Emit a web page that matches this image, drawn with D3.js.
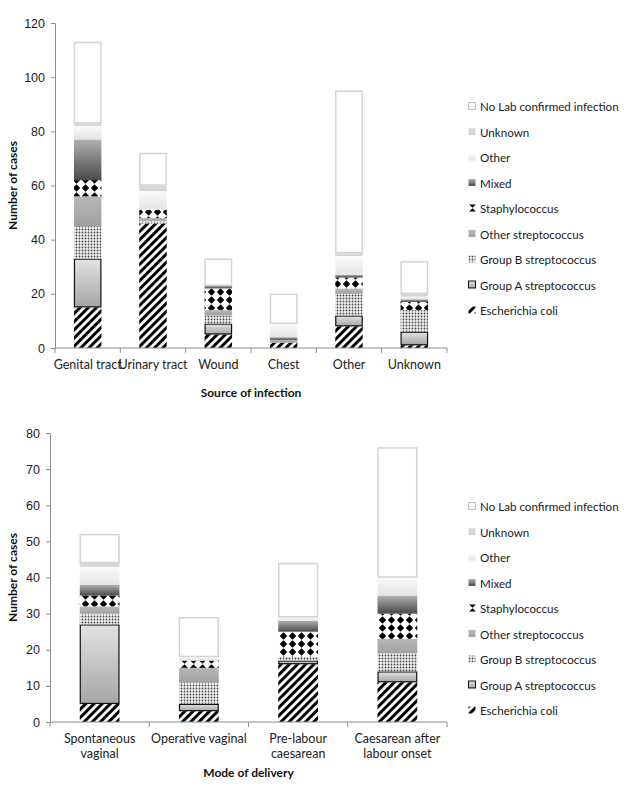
<!DOCTYPE html>
<html>
<head>
<meta charset="utf-8">
<script src="https://cdn.jsdelivr.net/npm/d3@7"></script>
<style>
  body { margin: 0; background: #fff; }
  svg { font-family: Lato, "Open Sans", sans-serif; }
  .tick text { fill: #222; font-size: 12.5px; }
  .axis-title { font-weight: bold; font-size: 12px; fill: #111; }
  .legend text { font-size: 11.6px; fill: #1a1a1a; }
</style>
</head>
<body>
<svg id="chart" width="625" height="800"></svg>
<script>
// series, bottom of each stack to top
const seriesNames = ["Escherichia coli", "Group A streptococcus", "Group B streptococcus",
  "Other streptococcus", "Staphylococcus", "Mixed", "Other", "Unknown", "No Lab confirmed infection"];

// top chart: source of infection
const sources = ["Genital tract", "Urinary tract", "Wound", "Chest", "Other", "Unknown"];
const ecoliSource      = [15, 46, 5, 2, 8, 1];
const groupASource     = [18, 0, 4, 0, 4, 5];
const groupBSource     = [12, 1, 3, 0, 8, 8];
const otherStrepSource = [11, 1, 2, 1, 2, 0];
const staphSource      = [6, 3, 8, 0, 4, 3];
const mixedSource      = [15, 0, 1, 1, 1, 1];
const otherSource      = [5, 7, 0, 5, 7, 1];
const unknownSource    = [1, 2, 0, 0, 1, 1];
const noLabSource      = [30, 12, 10, 11, 60, 12];
const sourceTicks = [0, 20, 40, 60, 80, 100, 120];

// bottom chart: mode of delivery
const modes = ["Spontaneous vaginal", "Operative vaginal", "Pre-labour caesarean", "Caesarean after labour onset"];
const modeLabels = [["Spontaneous", "vaginal"], ["Operative vaginal"], ["Pre-labour", "caesarean"], ["Caesarean after", "labour onset"]];
const ecoliMode      = [5, 3, 16, 11];
const groupAMode     = [22, 2, 1, 3];
const groupBMode     = [3, 6, 1, 5];
const otherStrepMode = [2, 4, 0, 4];
const staphMode      = [3, 2, 7, 7];
const mixedMode      = [3, 0, 3, 5];
const otherMode      = [5, 1, 1, 5];
const unknownMode    = [1, 0, 0, 0];
const noLabMode      = [8, 11, 15, 36];
const modeTicks = [0, 10, 20, 30, 40, 50, 60, 70, 80];

const svg = d3.select("#chart");
const defs = svg.append("defs");

// fills for each series
function vGrad(id, top, bottom) {
  const g = defs.append("linearGradient").attr("id", id)
    .attr("x1", 0).attr("y1", 0).attr("x2", 0).attr("y2", 1);
  g.append("stop").attr("offset", "0%").attr("stop-color", top);
  g.append("stop").attr("offset", "100%").attr("stop-color", bottom);
}
vGrad("gA", "#e2e2e2", "#a6a6a6");
vGrad("gOS", "#b8b8b8", "#a0a0a0");
vGrad("gMix", "#b0b0b0", "#4a4a4a");
vGrad("gOther", "#fafafa", "#e4e4e4");
vGrad("gUnk", "#dcdcdc", "#d0d0d0");

const stripes = defs.append("pattern").attr("id", "pEcoli")
  .attr("patternUnits", "userSpaceOnUse").attr("width", 5.8).attr("height", 8)
  .attr("patternTransform", "rotate(45)");
stripes.append("rect").attr("width", 5.8).attr("height", 8).attr("fill", "#fff");
stripes.append("rect").attr("width", 3).attr("height", 8).attr("fill", "#000");

const dots = defs.append("pattern").attr("id", "pGB")
  .attr("patternUnits", "userSpaceOnUse").attr("width", 3).attr("height", 3);
dots.append("rect").attr("width", 3).attr("height", 3).attr("fill", "#f2f2f2");
dots.append("circle").attr("cx", 1.5).attr("cy", 1.5).attr("r", 0.9).attr("fill", "#444");

const diam = defs.append("pattern").attr("id", "pStaph")
  .attr("patternUnits", "userSpaceOnUse").attr("width", 9).attr("height", 8);
diam.append("rect").attr("width", 9).attr("height", 8).attr("fill", "#fff");
diam.append("path").attr("d", "M4.5,0.3 L8.2,4 L4.5,7.7 L0.8,4 Z").attr("fill", "#000");

const fills = ["url(#pEcoli)", "url(#gA)", "url(#pGB)", "url(#gOS)", "url(#pStaph)",
  "url(#gMix)", "url(#gOther)", "url(#gUnk)", "#fff"];
const strokes = [null, "#111", null, null, null, null, null, null, "#d4d4d4"];

function drawChart(cfg) {
  const g = svg.append("g");
  const rows = cfg.categories.map((c, i) => {
    const r = {cat: c};
    seriesNames.forEach((s, j) => r[s] = cfg.values[j][i]);
    return r;
  });
  const stacked = d3.stack().keys(seriesNames)(rows);

  const x = d3.scaleBand().domain(cfg.categories).range([cfg.left, cfg.right])
    .paddingInner(cfg.pad).paddingOuter(cfg.pad / 2);
  const y = d3.scaleLinear().domain([0, cfg.max]).range([cfg.bottom, cfg.top]);

  // y axis
  const yAxis = g.append("g").attr("transform", `translate(${cfg.left},0)`)
    .call(d3.axisLeft(y).tickValues(cfg.ticks).tickSize(4).tickPadding(6));
  yAxis.selectAll("path, line").attr("stroke", "#8c8c8c");

  // bars
  stacked.forEach((layer, j) => {
    g.append("g").selectAll("rect")
      .data(layer.filter(d => d[1] > d[0]))
      .join("rect")
      .attr("x", d => x(d.data.cat) + (strokes[j] ? 0.5 : 0))
      .attr("width", x.bandwidth() - (strokes[j] ? 1 : 0))
      .attr("y", d => y(d[1]) + (strokes[j] ? 0.5 : 0))
      .attr("height", d => Math.max(0, y(d[0]) - y(d[1]) - (strokes[j] ? 1 : 0)))
      .attr("fill", fills[j])
      .attr("stroke", strokes[j] || "none")
      .attr("stroke-width", j === 8 ? 1.5 : 1.2);
  });

  // category axis, ticks between categories
  const xa = g.append("g").attr("transform", `translate(0,${cfg.bottom})`);
  xa.append("line").attr("x1", cfg.left).attr("x2", cfg.right).attr("stroke", "#8c8c8c");
  const step = x.step();
  d3.range(cfg.categories.length + 1).forEach(i => {
    const px = cfg.left + i * step;
    xa.append("line").attr("x1", px).attr("x2", px).attr("y1", 0).attr("y2", 5).attr("stroke", "#8c8c8c");
  });
  cfg.categories.forEach((c, i) => {
    const t = xa.append("text").attr("class", "tick")
      .attr("x", x(c) + x.bandwidth() / 2).attr("y", 21)
      .attr("text-anchor", "middle").style("font-size", "12.5px").attr("fill", "#222");
    cfg.labels[i].forEach((line, k) => t.append("tspan")
      .attr("x", x(c) + x.bandwidth() / 2).attr("dy", k === 0 ? 0 : 15).text(line));
  });

  g.append("text").attr("class", "axis-title")
    .attr("transform", `translate(${cfg.yTitleX},${(cfg.top + cfg.bottom) / 2}) rotate(-90)`)
    .attr("text-anchor", "middle").text("Number of cases");
  g.append("text").attr("class", "axis-title")
    .attr("x", (cfg.left + cfg.right) / 2).attr("y", cfg.xTitleY)
    .attr("text-anchor", "middle").text(cfg.xTitle);

  // legend, top entry is the last series
  const lg = g.append("g").attr("class", "legend");
  seriesNames.slice().reverse().forEach((s, k) => {
    const j = seriesNames.length - 1 - k;
    const ly = cfg.legendTop + k * 25.5;
    lg.append("rect").attr("x", 468.5).attr("y", ly - 4.5).attr("width", 7).attr("height", 7)
      .attr("fill", fills[j]).attr("stroke", j === 1 ? "#111" : (j === 8 ? "#bbb" : "none"));
    lg.append("text").attr("x", 480).attr("y", ly).attr("dy", "0.35em").text(s);
  });
}

drawChart({
  categories: sources,
  labels: sources.map(s => [s]),
  values: [ecoliSource, groupASource, groupBSource, otherStrepSource, staphSource,
    mixedSource, otherSource, unknownSource, noLabSource],
  max: 120, ticks: sourceTicks,
  left: 55, right: 447, top: 23, bottom: 348, pad: 0.58,
  yTitleX: 17, xTitle: "Source of infection", xTitleY: 397,
  legendTop: 107
});

drawChart({
  categories: modes,
  labels: modeLabels,
  values: [ecoliMode, groupAMode, groupBMode, otherStrepMode, staphMode,
    mixedMode, otherMode, unknownMode, noLabMode],
  max: 80, ticks: modeTicks,
  left: 50, right: 447, top: 433, bottom: 722, pad: 0.6,
  yTitleX: 17, xTitle: "Mode of delivery", xTitleY: 777,
  legendTop: 507
});
</script>
</body>
</html>
